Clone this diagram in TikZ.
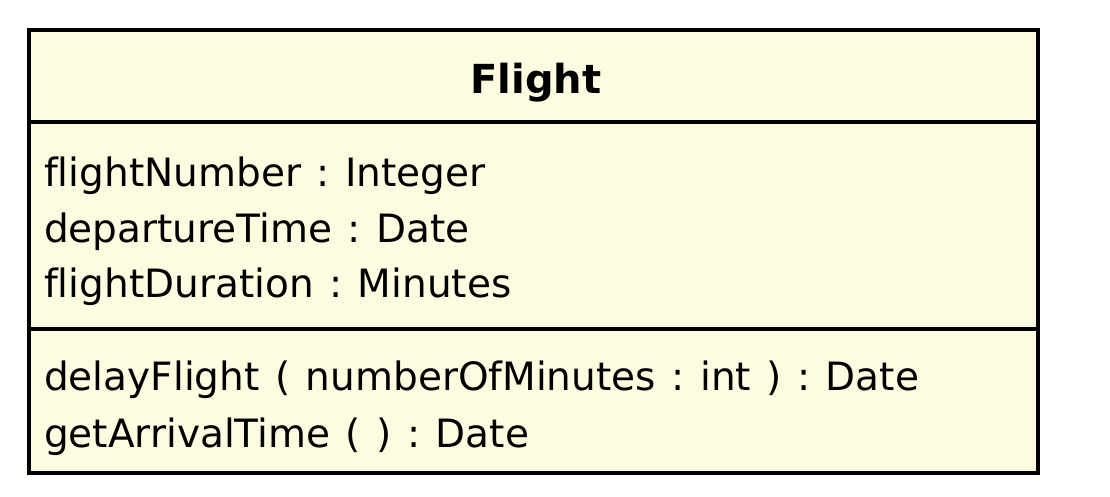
\documentclass[tikz,border=0pt]{standalone}
\usepackage{fontspec}
\setmainfont{DejaVu Sans}
\newfontfamily\umlfont[Ligatures=NoCommon,WordSpace=1.25]{DejaVu Sans}
\definecolor{classfill}{RGB}{253,252,224}
\frenchspacing
\begin{document}
\begin{tikzpicture}[x=1pt,y=-1pt,
  compartment/.style={draw=black,line width=3.5pt,fill=classfill,inner sep=0pt},
  divider/.style={line width=3.5pt},
  member/.style={anchor=base west,inner sep=0pt,font=\umlfont\fontsize{39}{45}\selectfont\frenchspacing},
  classname/.style={anchor=base,inner sep=0pt,font=\umlfont\bfseries\fontsize{40}{46}\selectfont}]
\useasboundingbox (0,0) rectangle (1110,496);
\fill[white] (0,0) rectangle (1110,496);
\draw[compartment] (29,30) rectangle (1038,473);
\coordinate (d1l) at (29,122); \coordinate (d1r) at (1038,122);
\coordinate (d2l) at (29,329); \coordinate (d2r) at (1038,329);
\draw[divider] (d1l) -- (d1r);
\draw[divider] (d2l) -- (d2r);
\node[classname] (title) at (536,93) {Flight};
\node[member] (a1) at (44,186) {flightNumber : Integer};
\node[member] (a2) at (44,242) {departureTime : Date};
\node[member] (a3) at (44,297) {flightDuration : Minutes};
\node[member] (m1) at (44,390) {delayFlight ( numberOfMinutes : int ) : Date};
\node[member] (m2) at (44,447) {getArrivalTime ( ) : Date};
\end{tikzpicture}
\end{document}
